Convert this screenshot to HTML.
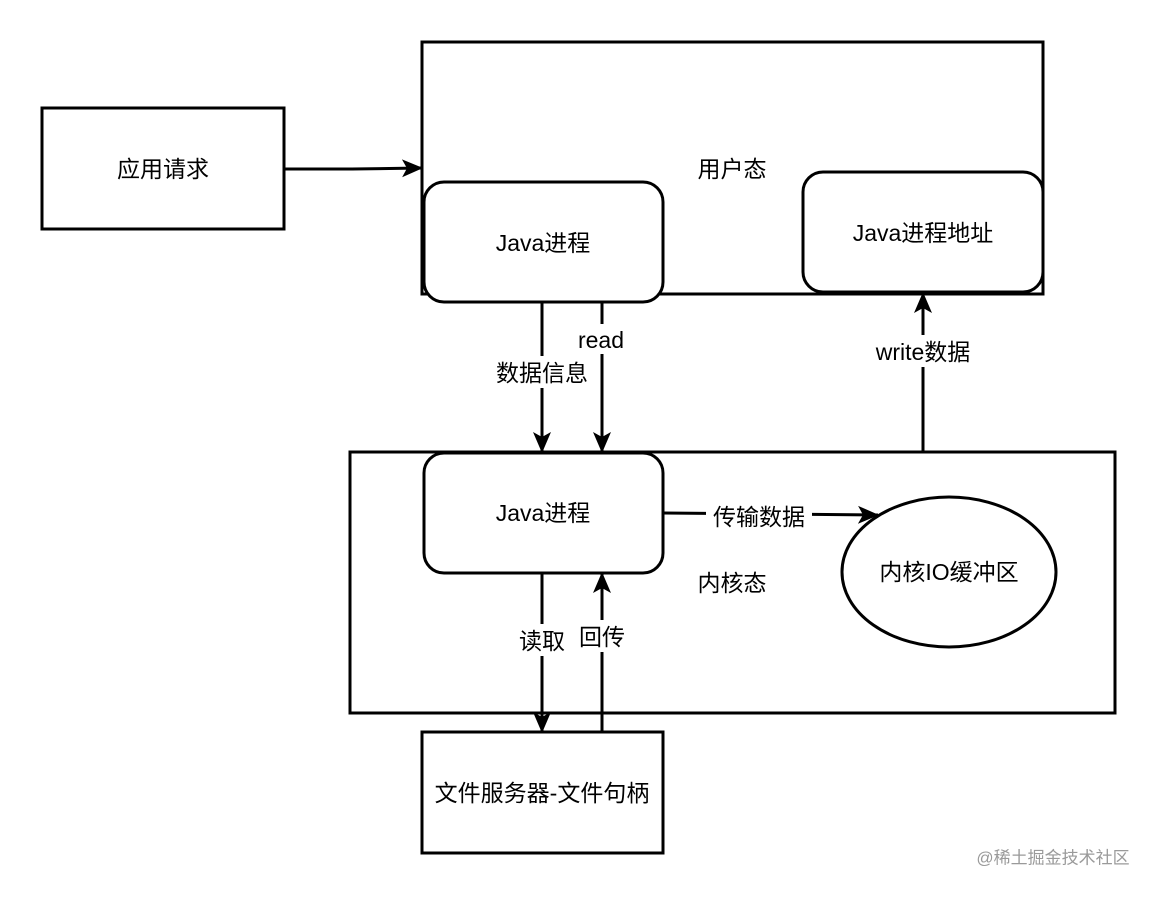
<!DOCTYPE html>
<html><head><meta charset="utf-8"><style>
html,body{margin:0;padding:0;background:#fff;}
svg text{font-family:"Liberation Sans","Noto Sans CJK SC",sans-serif;font-size:23px;fill:#000;}
</style></head><body>
<svg width="1156" height="894" viewBox="0 0 1156 894" xmlns="http://www.w3.org/2000/svg">
<defs>
<marker id="a" markerWidth="22" markerHeight="20" refX="20" refY="10" orient="auto" markerUnits="userSpaceOnUse" viewBox="0 0 22 20">
<path d="M0,1 L21,10 L0,19 L5,10 Z" fill="#000"/>
</marker>
</defs>
<g fill="none" stroke="#000" stroke-width="3">
<rect x="42" y="108" width="242" height="121"/>
<rect x="422" y="42" width="621" height="252"/>
<rect x="424" y="182" width="239" height="120" rx="20" fill="#fff"/>
<rect x="803" y="172" width="240" height="120" rx="20" fill="#fff"/>
<rect x="350" y="452" width="765" height="261"/>
<rect x="424" y="453" width="239" height="120" rx="20" fill="#fff"/>
<ellipse cx="949" cy="572" rx="107" ry="75" fill="#fff"/>
<rect x="422" y="732" width="241" height="121" fill="#fff"/>
</g>
<g stroke="#000" stroke-width="3" fill="none">
<path d="M284,169 L352,169 L422,168" marker-end="url(#a)"/>
<path d="M542,302 L542,452" marker-end="url(#a)"/>
<path d="M602,302 L602,452" marker-end="url(#a)"/>
<path d="M923,452 L923,293" marker-end="url(#a)"/>
<path d="M663,513 L878,515" marker-end="url(#a)"/>
<path d="M542,573 L542,732" marker-end="url(#a)"/>
<path d="M602,732 L602,573" marker-end="url(#a)"/>
</g>
<g fill="#fff">
<rect x="490" y="356" width="104" height="32"/>
<rect x="572" y="324" width="60" height="30"/>
<rect x="870" y="335" width="108" height="32"/>
<rect x="706" y="500" width="106" height="32"/>
<rect x="512" y="624" width="60" height="32"/>
<rect x="572" y="620" width="60" height="32"/>
</g>
<g text-anchor="middle" dominant-baseline="central">
<text x="163" y="169">应用请求</text>
<text x="732" y="169">用户态</text>
<text x="543" y="243">Java进程</text>
<text x="923" y="233">Java进程地址</text>
<text x="542" y="373">数据信息</text>
<text x="601" y="340">read</text>
<text x="923" y="352">write数据</text>
<text x="543" y="513">Java进程</text>
<text x="759" y="517">传输数据</text>
<text x="732" y="583">内核态</text>
<text x="949" y="572">内核IO缓冲区</text>
<text x="542" y="641">读取</text>
<text x="602" y="637">回传</text>
<text x="542" y="793">文件服务器-文件句柄</text>
<text x="1053" y="858" style="font-size:17px;fill:#9a9a9a">@稀土掘金技术社区</text>
</g>
</svg>
</body></html>
